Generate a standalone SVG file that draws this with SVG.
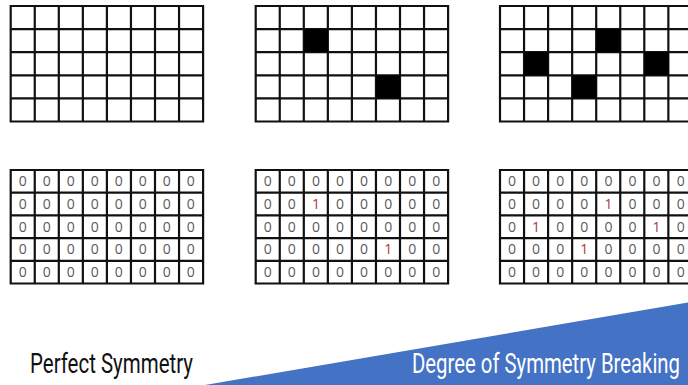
<svg xmlns="http://www.w3.org/2000/svg" xmlns:xlink="http://www.w3.org/1999/xlink" width="688" height="385" viewBox="0 0 688 385">
<style>
.grid{fill:#fff;stroke:#111;stroke-width:2.2}
.blk{fill:#000}
.num{font-family:"Open Sans","Liberation Sans",sans-serif;font-size:14px;fill:#5a5a5a;text-anchor:middle}
.one{fill:#a83a3a}
.lbl{font-family:Roboto,"Liberation Sans",sans-serif;font-size:27px;font-weight:400}
</style>
<defs>
<path id="gTop" class="grid" d="M0 0H192.4V115.5H0Z M24.05 0V115.5M48.1 0V115.5M72.15 0V115.5M96.2 0V115.5M120.25 0V115.5M144.3 0V115.5M168.35 0V115.5 M0 23.1H192.4M0 46.2H192.4M0 69.3H192.4M0 92.4H192.4"/>
<path id="gBot" class="grid" d="M0 0H192.4V113.5H0Z M24.05 0V113.5M48.1 0V113.5M72.15 0V113.5M96.2 0V113.5M120.25 0V113.5M144.3 0V113.5M168.35 0V113.5 M0 22.7H192.4M0 45.4H192.4M0 68.1H192.4M0 90.8H192.4"/>
</defs>
<rect width="688" height="385" fill="#fff"/>

<g id="grid-top-1">
<use xlink:href="#gTop" x="10.7" y="6"/>
</g>
<g id="grid-top-2">
<use xlink:href="#gTop" x="255.7" y="6"/>
<rect class="blk" x="303.9" y="29.1" width="24.1" height="23.1"/>
<rect class="blk" x="376.1" y="75.3" width="24.1" height="23.1"/>
</g>
<g id="grid-top-3">
<use xlink:href="#gTop" x="500" y="6"/>
<rect class="blk" x="596.2" y="29.1" width="24.1" height="23.1"/>
<rect class="blk" x="524.1" y="52.2" width="24.1" height="23.1"/>
<rect class="blk" x="644.4" y="52.2" width="24.1" height="23.1"/>
<rect class="blk" x="572.3" y="75.3" width="24.1" height="23.1"/>
</g>

<g id="grid-bot-1">
<use xlink:href="#gBot" x="10.7" y="170"/>
<text class="num" x="22.7 46.7 70.7 94.7 118.7 142.7 166.7 190.7" y="186.3">00000000</text>
<text class="num" x="22.7 46.7 70.7 94.7 118.7 142.7 166.7 190.7" y="209">00000000</text>
<text class="num" x="22.7 46.7 70.7 94.7 118.7 142.7 166.7 190.7" y="231.7">00000000</text>
<text class="num" x="22.7 46.7 70.7 94.7 118.7 142.7 166.7 190.7" y="254.4">00000000</text>
<text class="num" x="22.7 46.7 70.7 94.7 118.7 142.7 166.7 190.7" y="277.1">00000000</text>
</g>
<g id="grid-bot-2">
<use xlink:href="#gBot" x="255.7" y="170"/>
<text class="num" x="267.7 291.8 315.9 340 364.1 388.2 412.2 436.3" y="186.3">00000000</text>
<text class="num" x="267.7 291.8 315.9 340 364.1 388.2 412.2 436.3" y="209">00<tspan class="one">1</tspan>00000</text>
<text class="num" x="267.7 291.8 315.9 340 364.1 388.2 412.2 436.3" y="231.7">00000000</text>
<text class="num" x="267.7 291.8 315.9 340 364.1 388.2 412.2 436.3" y="254.4">00000<tspan class="one">1</tspan>00</text>
<text class="num" x="267.7 291.8 315.9 340 364.1 388.2 412.2 436.3" y="277.1">00000000</text>
</g>
<g id="grid-bot-3">
<use xlink:href="#gBot" x="500" y="170"/>
<text class="num" x="512 536.1 560.2 584.3 608.4 632.5 656.6 680.7" y="186.3">00000000</text>
<text class="num" x="512 536.1 560.2 584.3 608.4 632.5 656.6 680.7" y="209">0000<tspan class="one">1</tspan>000</text>
<text class="num" x="512 536.1 560.2 584.3 608.4 632.5 656.6 680.7" y="231.7">0<tspan class="one">1</tspan>0000<tspan class="one">1</tspan>0</text>
<text class="num" x="512 536.1 560.2 584.3 608.4 632.5 656.6 680.7" y="254.4">000<tspan class="one">1</tspan>0000</text>
<text class="num" x="512 536.1 560.2 584.3 608.4 632.5 656.6 680.7" y="277.1">00000000</text>
</g>

<g id="wedge">
<polygon points="205,385 688,302.5 688,385" fill="#4472c4"/>
</g>
<g id="label-left">
<text class="lbl" x="30" y="373" fill="#111" textLength="163" lengthAdjust="spacingAndGlyphs">Perfect Symmetry</text>
</g>
<g id="label-right">
<text class="lbl" x="412" y="373" fill="#fff" textLength="268" lengthAdjust="spacingAndGlyphs">Degree of Symmetry Breaking</text>
</g>
</svg>
